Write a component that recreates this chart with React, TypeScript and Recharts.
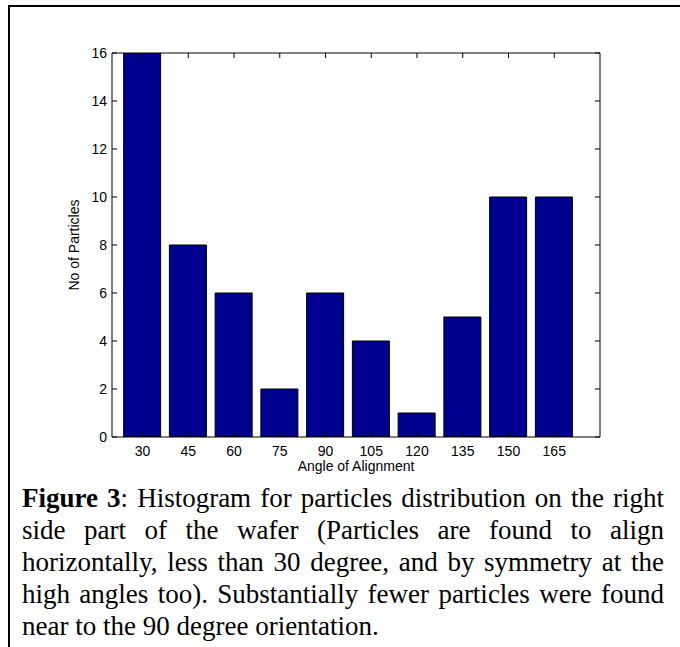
import React from 'react';
import { BarChart, Bar, XAxis, YAxis } from 'recharts';

const angles = [30, 45, 60, 75, 90, 105, 120, 135, 150, 165];
const particleCounts = [16, 8, 6, 2, 6, 4, 1, 5, 10, 10];
const yTicks = [0, 2, 4, 6, 8, 10, 12, 14, 16];
const xDomain = [20, 180];
const yDomain = [0, 16];
const xTitle = 'Angle of Alignment';
const yTitle = 'No of Particles';
const captionBold = 'Figure 3';
const captionLines = [
  ': Histogram for particles distribution on the right',
  'side part of the wafer (Particles are found to align',
  'horizontally, less than 30 degree, and by symmetry at the',
  'high angles too). Substantially fewer particles were found',
  'near to the 90 degree orientation.',
];

const data = angles.map((a, i) => ({ angle: a, count: particleCounts[i] }));

const axisFont = { fill: '#000', fontSize: 14, fontFamily: '"Liberation Sans", Arial, sans-serif' };

const EmptyTick = () => <g />;

export default function App() {
  return (
    <div
      style={{
        position: 'absolute',
        left: 0,
        top: 0,
        width: 680,
        height: 647,
        background: '#fff',
        overflow: 'hidden',
      }}
    >
      <div
        style={{
          position: 'absolute',
          left: 8,
          top: 5,
          width: 672,
          height: 642,
          borderTop: '2px solid #000',
          borderLeft: '2px solid #000',
          boxSizing: 'border-box',
        }}
      />
      <div style={{ position: 'absolute', left: 0, top: 0 }}>
        <BarChart
          width={680}
          height={480}
          data={data}
          margin={{ top: 48, right: 70, bottom: 8, left: 36 }}
          barSize={37}
        >
          <XAxis
            xAxisId="bottom"
            dataKey="angle"
            type="number"
            domain={xDomain}
            ticks={angles}
            interval={0}
            allowDataOverflow
            height={35}
            stroke="#000"
            tickSize={-5}
            tickMargin={14}
            tick={axisFont}
            label={{
              value: xTitle,
              position: 'insideBottom',
              offset: 1,
              style: axisFont,
            }}
          />
          <XAxis
            xAxisId="top"
            orientation="top"
            dataKey="angle"
            type="number"
            domain={xDomain}
            ticks={angles}
            interval={0}
            allowDataOverflow
            height={5}
            stroke="#000"
            tickSize={-5}
            tick={EmptyTick}
          />
          <YAxis
            yAxisId="left"
            type="number"
            domain={yDomain}
            ticks={yTicks}
            interval={0}
            allowDataOverflow
            width={76}
            stroke="#000"
            tickSize={-5}
            tickMargin={10}
            tick={axisFont}
            label={{
              value: yTitle,
              angle: -90,
              position: 'center',
              style: { ...axisFont, textAnchor: 'middle' },
            }}
          />
          <YAxis
            yAxisId="right"
            orientation="right"
            type="number"
            domain={yDomain}
            ticks={yTicks}
            interval={0}
            allowDataOverflow
            width={10}
            stroke="#000"
            tickSize={-5}
            tick={EmptyTick}
          />
          <Bar
            xAxisId="bottom"
            yAxisId="left"
            dataKey="count"
            fill="#00008f"
            stroke="#000"
            strokeWidth={1}
            isAnimationActive={false}
          />
        </BarChart>
      </div>
      <div
        style={{
          position: 'absolute',
          left: 22,
          top: 482,
          width: 642,
          fontFamily: '"Liberation Serif", "Times New Roman", serif',
          fontSize: 27,
          lineHeight: '32px',
          color: '#000',
        }}
      >
        {captionLines.map((line, i) => (
          <div
            key={i}
            style={{
              textAlign: 'justify',
              textAlignLast: i < captionLines.length - 1 ? 'justify' : 'left',
              whiteSpace: 'nowrap',
              height: 32,
            }}
          >
            {i === 0 ? (
              <span style={{ display: 'inline' }}>
                <b>{captionBold}</b>
                {line}
              </span>
            ) : (
              line
            )}
          </div>
        ))}
      </div>
    </div>
  );
}
